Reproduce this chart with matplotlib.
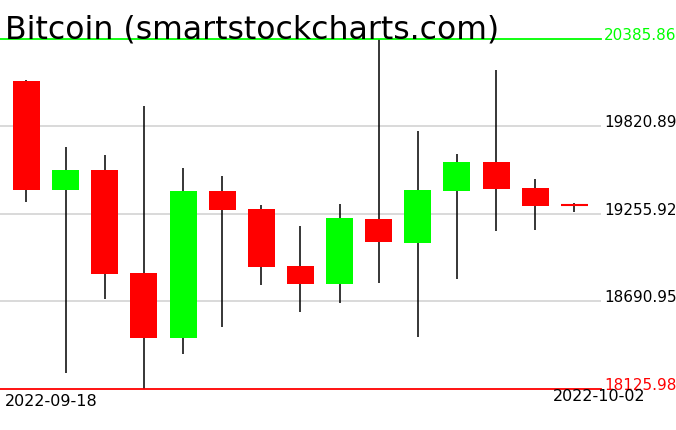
import matplotlib
matplotlib.use("Agg")
import matplotlib.pyplot as plt
import numpy as np

dates = ["2022-09-18", "2022-09-19", "2022-09-20", "2022-09-21", "2022-09-22",
         "2022-09-23", "2022-09-24", "2022-09-25", "2022-09-26", "2022-09-27",
         "2022-09-28", "2022-09-29", "2022-09-30", "2022-10-01", "2022-10-02"]
opens = [20113, 19413, 19540, 18875, 18457, 19404, 19288, 18920, 18806, 19224,
         19069, 19404, 19592, 19424, 19314]
highs = [20119, 19688, 19637, 19951, 19551, 19501, 19314, 19178, 19320, 20385.86,
         19790, 19643, 20186, 19482, 19327]
lows = [19331, 18231, 18709, 18125.98, 18354, 18528, 18800, 18625, 18679, 18812,
        18464, 18838, 19148, 19155, 19269]
closes = [19413, 19540, 18870, 18457, 19404, 19284, 18916, 18806, 19230, 19077,
          19411, 19592, 19417, 19310, 19312]
title = "Bitcoin (smartstockcharts.com)"

W, H = 676, 431
fig = plt.figure(figsize=(W / 100, H / 100), dpi=100)
ax = fig.add_axes([0, (H - 390) / H, 601 / W, 350 / H])

lo, hi = min(lows), max(highs)
ticks = np.linspace(lo, hi, 5)

n = len(dates)
x = np.arange(n)
bw = 0.69
for yv in ticks[1:-1]:
    ax.axhline(yv, color="#d3d3d3", lw=1.2, zorder=0)

for i in range(n):
    o, h, l, c = opens[i], highs[i], lows[i], closes[i]
    col = "#00ff00" if c > o else "#ff0000"
    ax.vlines(x[i], l, h, color="black", lw=1.1, zorder=1)
    if abs(c - o) < 5:
        ax.hlines(o, x[i] - bw / 2, x[i] + bw / 2, color=col, lw=1.5, zorder=2)
    else:
        ax.bar(x[i], c - o, bottom=o, width=bw, color=col, edgecolor="none", zorder=2)

ax.set_xlim(-0.677, 14.68)
ax.set_ylim(lo, hi)
ax.axhline(hi, color="#00ff00", lw=1.3, clip_on=False, zorder=3)
ax.axhline(lo, color="#ff0000", lw=1.3, clip_on=False, zorder=3)
for s in ax.spines.values():
    s.set_visible(False)
ax.set_xticks([])
ax.set_yticks([])
ax.patch.set_alpha(0)

labcols = ["#ff0000", "black", "black", "black", "#00ff00"]
for yv, cc in zip(ticks, labcols):
    ax.text(604 / 601, yv, f"{yv:.2f}", transform=ax.get_yaxis_transform(),
            ha="left", va="baseline", fontsize=11, color=cc, clip_on=False)

fig.text(5 / W, 1 - 38.5 / H, title, fontsize=22.7, color="black",
         ha="left", va="baseline", family="DejaVu Sans")
fig.text(5 / W, 1 - 406 / H, dates[0], fontsize=11.5, ha="left", va="baseline")
fig.text(646 / W, 1 - 401.5 / H, dates[-1], fontsize=11.5, ha="right", va="baseline")

fig.savefig("out.png", dpi=100)
